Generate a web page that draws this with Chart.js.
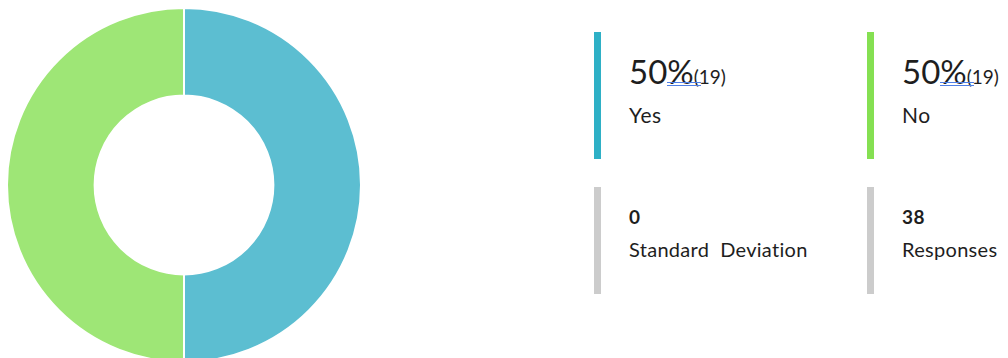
<!DOCTYPE html>
<html>
<head>
<meta charset="utf-8">
<script src="https://cdn.jsdelivr.net/npm/chart.js@4"></script>
<style>
  html, body { margin: 0; padding: 0; background: #fff; }
  body { width: 1008px; height: 358px; overflow: hidden; position: relative; font-family: Lato, "Open Sans", sans-serif; color: #1e1e1e; }
  #pie { position: absolute; left: 0; top: 0; }
  .bar { position: absolute; width: 7px; }
  .txt { position: absolute; white-space: pre; line-height: 1; }
  .big { font-size: 33px; }
  .cnt { font-size: 19px; }
  .lbl { font-size: 21px; letter-spacing: 0.6px; }
  .num { font-size: 19px; font-weight: 700; letter-spacing: 0.5px; }
  .sub { font-size: 20px; letter-spacing: 0.3px; }
  .squig { position: absolute; height: 2px; border-top: 1px solid #4f7fe6; border-bottom: 1px solid #4f7fe6; }
</style>
</head>
<body>
<canvas id="pie" width="368" height="370"></canvas>
<div id="tiles"></div>
<script>
// survey answers and their counts
const labels = ['Yes', 'No'];
const counts = [19, 19];
const sliceColors = ['#5cbed1', '#9ee676'];
const accentColors = ['#2eb0c6', '#85e052'];

// summary figures shown under the answer tiles
const statLabels = ['Standard  Deviation', 'Responses'];
const statValues = ['0', '38'];

const total = counts.reduce((a, b) => a + b, 0);

new Chart(document.getElementById('pie'), {
  type: 'doughnut',
  data: {
    labels: labels,
    datasets: [{
      data: counts,
      backgroundColor: sliceColors,
      borderColor: '#ffffff',
      borderWidth: 2
    }]
  },
  options: {
    responsive: false,
    animation: false,
    radius: 177,
    cutout: '50.5%',
    layout: { padding: 0 },
    plugins: { legend: { display: false }, tooltip: { enabled: false } }
  }
});

// answer tiles and summary tiles to the right of the ring
const tiles = document.getElementById('tiles');
const colX = [594, 867];
function add(cls, css, text) {
  const d = document.createElement('div');
  d.className = cls;
  Object.assign(d.style, css);
  if (text !== undefined) d.textContent = text;
  tiles.appendChild(d);
  return d;
}
labels.forEach((lab, i) => {
  const x = colX[i];
  add('bar', { left: x + 'px', top: '32px', height: '127px', background: accentColors[i] });
  const pct = Math.round(counts[i] / total * 100);
  const line = add('txt big', { left: (x + 35) + 'px', top: '55px' });
  line.innerHTML = pct + '%<span class="cnt">(' + counts[i] + ')</span>';
  add('squig', { left: (x + 73) + 'px', top: '82px', width: '34px' });
  add('txt lbl', { left: (x + 35) + 'px', top: '104px' }, lab);
});
statLabels.forEach((lab, i) => {
  const x = colX[i];
  add('bar', { left: x + 'px', top: '187px', height: '107px', background: '#cccccc' });
  add('txt num', { left: (x + 35) + 'px', top: '207px' }, statValues[i]);
  add('txt sub', { left: (x + 35) + 'px', top: '239px' }, lab);
});
</script>
</body>
</html>
